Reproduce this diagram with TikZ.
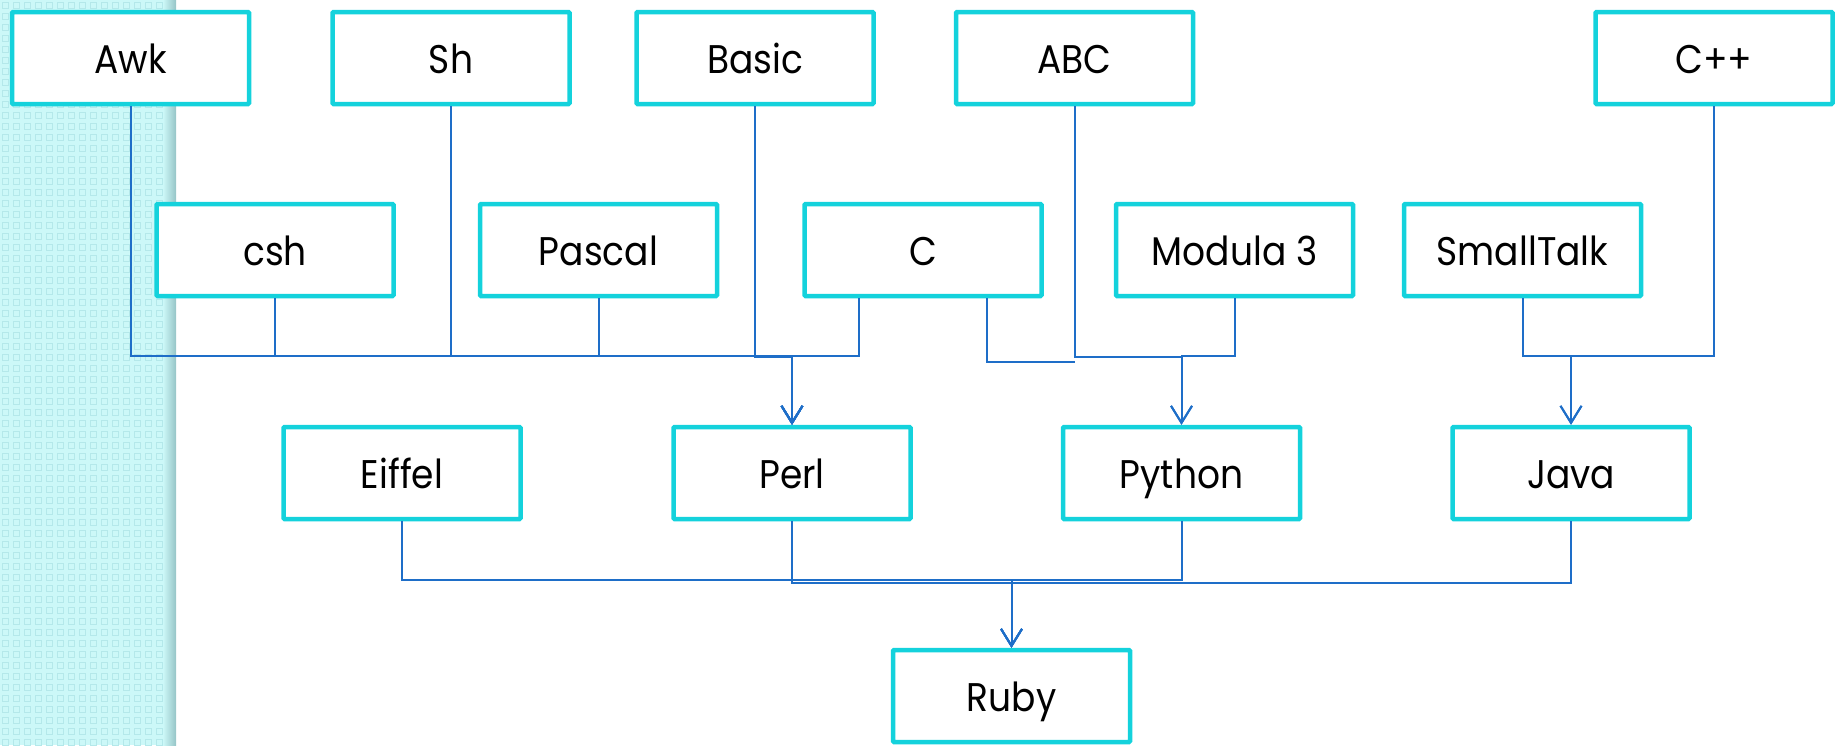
\documentclass[tikz,border=0pt]{standalone}
\usepackage{fontspec}
\usepackage{graphicx}
\newfontfamily\lblfont[FakeStretch=0.9]{Poppins}
\usetikzlibrary{arrows.meta,calc}
\definecolor{boxc}{RGB}{20,210,220}
\definecolor{linec}{RGB}{30,110,200}
\definecolor{stripe}{RGB}{204,248,248}
\definecolor{stripedot}{RGB}{180,232,234}
\definecolor{shadowc}{RGB}{150,196,198}
\begin{document}
\begin{tikzpicture}[x=1pt,y=-1pt,
  lang/.style={draw=boxc, line width=4.5pt, fill=white, minimum width=237pt,
    minimum height=92pt, inner sep=0pt, rounded corners=1pt,
    text height=38pt, text depth=8pt,
    font=\lblfont\fontsize{40}{48}\selectfont},
  conn/.style={draw=linec, line width=2pt},
  arr/.style={conn, -{Straight Barb[length=17pt,width=21pt]}}]
\useasboundingbox (0,0) rectangle (1841,745);
% background stripe
\fill[stripe] (0,0) rectangle (176,745);
\foreach \i in {0,...,15}{\foreach \j in {0,...,67}{
  \draw[stripedot, line width=1.2pt] (\i*11+2.5,\j*11+2.5) rectangle ++(6,6);}}
\shade[left color=stripe, right color=shadowc] (163,0) rectangle (176,745);
% nodes
\node[lang] (awk) at (130.5,58) {Awk};
\node[lang] (sh) at (451,58) {Sh};
\node[lang] (basic) at (755,58) {Basic};
\node[lang] (abc) at (1074.5,58) {ABC};
\node[lang] (cpp) at (1714,58) {C++};
\node[lang] (csh) at (275,250) {csh};
\node[lang] (pascal) at (598.5,250) {Pascal};
\node[lang] (c) at (923,250) {C};
\node[lang] (modula) at (1234.5,250) {Modula 3};
\node[lang] (smalltalk) at (1522.5,250) {SmallTalk};
\node[lang] (eiffel) at (402,473) {Eiffel};
\node[lang] (perl) at (792,473) {Perl};
\node[lang] (python) at (1181.5,473) {Python};
\node[lang] (java) at (1571,473) {Java};
\node[lang] (ruby) at (1011.5,696) {Ruby};
% bus levels
\coordinate (busP) at (0,356);
\coordinate (busY) at (0,357);
\coordinate (busC) at (0,362);
\coordinate (busJ) at (0,356);
\coordinate (busR1) at (0,580);
\coordinate (busR2) at (0,583);
% to Perl
\draw[arr] (awk.south) -- (awk.south |- busP) -| (perl.north);
\draw[arr] (sh.south) -- (sh.south |- busP) -| (perl.north);
\draw[arr] (basic.south) -- (basic.south |- busY) -| (perl.north);
\draw[arr] (csh.south) -- (csh.south |- busP) -| (perl.north);
\draw[arr] (pascal.south) -- (pascal.south |- busP) -| (perl.north);
\draw[arr] ($(c.south)+(-64,0)$) |- (perl.north |- busP) -- (perl.north);
% C right stub
\draw[conn] ($(c.south)+(64,0)$) |- (abc.south |- busC);
% to Python
\draw[arr] (abc.south) -- (abc.south |- busY) -| (python.north);
\draw[arr] (modula.south) -- (modula.south |- busP) -| (python.north);
% to Java
\draw[arr] (smalltalk.south) -- (smalltalk.south |- busJ) -| (java.north);
\draw[arr] (cpp.south) -- (cpp.south |- busJ) -| (java.north);
% to Ruby
\draw[arr] (eiffel.south) -- (eiffel.south |- busR1) -| (ruby.north);
\draw[arr] (python.south) -- (python.south |- busR1) -| (ruby.north);
\draw[arr] (perl.south) -- (perl.south |- busR2) -| (ruby.north);
\draw[arr] (java.south) -- (java.south |- busR2) -| (ruby.north);
\end{tikzpicture}
\end{document}
